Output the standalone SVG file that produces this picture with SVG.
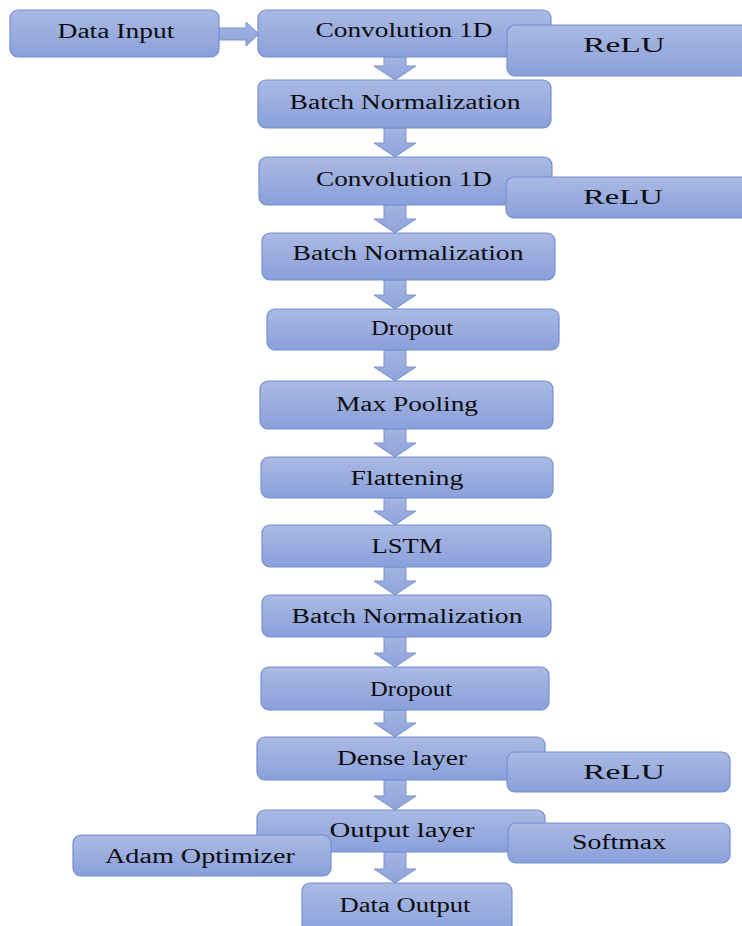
<svg xmlns="http://www.w3.org/2000/svg" width="742" height="926" viewBox="0 0 742 926">
<defs>
<linearGradient id="g" x1="0" y1="0" x2="0" y2="1">
<stop offset="0" stop-color="#abbae4"/>
<stop offset="1" stop-color="#8aa0da"/>
</linearGradient>
<linearGradient id="ga" x1="0" y1="0" x2="0" y2="1">
<stop offset="0" stop-color="#a4b4e2"/>
<stop offset="1" stop-color="#8ea3da"/>
</linearGradient>
<linearGradient id="gh" x1="0" y1="0" x2="1" y2="0">
<stop offset="0" stop-color="#a4b4e2"/>
<stop offset="1" stop-color="#8ea3da"/>
</linearGradient>
</defs>
<style>
.b{fill:url(#g);stroke:#7590d0;stroke-width:1.2}
.t{font-family:"Liberation Serif","Times New Roman",serif;font-size:20.5px;fill:#0d0d0d;text-anchor:middle}
.a{fill:url(#ga);stroke:#7a93d2;stroke-width:1}
</style>
<rect width="742" height="926" fill="#ffffff"/>
<g id="connectors">
<polygon class="a" fill="url(#gh)" points="219,28 246,28 246,22 259,34 246,46 246,40 219,40"/>
<polygon class="a" points="384,57 406,57 406,66 416,66 395,80 374,66 384,66"/>
<polygon class="a" points="384,128 406,128 406,143 416,143 395,157 374,143 384,143"/>
<polygon class="a" points="384,205 406,205 406,219 416,219 395,233 374,219 384,219"/>
<polygon class="a" points="384,280 406,280 406,295 416,295 395,309 374,295 384,295"/>
<polygon class="a" points="384,350 406,350 406,367 416,367 395,381 374,367 384,367"/>
<polygon class="a" points="384,429 406,429 406,443 416,443 395,457 374,443 384,443"/>
<polygon class="a" points="384,498 406,498 406,511 416,511 395,525 374,511 384,511"/>
<polygon class="a" points="384,567 406,567 406,581 416,581 395,595 374,581 384,581"/>
<polygon class="a" points="384,637 406,637 406,653 416,653 395,667 374,653 384,653"/>
<polygon class="a" points="384,710 406,710 406,723 416,723 395,737 374,723 384,723"/>
<polygon class="a" points="384,780 406,780 406,796 416,796 395,810 374,796 384,796"/>
<polygon class="a" points="384,852 406,852 406,869 416,869 395,883 374,869 384,869"/>
</g>
<g id="data-input"><rect class="b" x="10" y="10" width="209" height="47" rx="8"/><text class="t" x="116" y="38" textLength="117" lengthAdjust="spacingAndGlyphs">Data Input</text></g>
<g id="conv1"><rect class="b" x="258" y="10" width="293" height="47" rx="8"/><text class="t" x="404" y="37" textLength="177" lengthAdjust="spacingAndGlyphs">Convolution 1D</text></g>
<g id="relu1"><rect class="b" x="507" y="25" width="250" height="51" rx="8"/><text class="t" x="624" y="52" textLength="82" lengthAdjust="spacingAndGlyphs">ReLU</text></g>
<g id="bn1"><rect class="b" x="258" y="80" width="293" height="48" rx="8"/><text class="t" x="405" y="109" textLength="231" lengthAdjust="spacingAndGlyphs">Batch Normalization</text></g>
<g id="conv2"><rect class="b" x="259" y="157" width="293" height="48" rx="8"/><text class="t" x="404" y="186" textLength="176" lengthAdjust="spacingAndGlyphs">Convolution 1D</text></g>
<g id="relu2"><rect class="b" x="506" y="177" width="250" height="41" rx="8"/><text class="t" x="623" y="204" textLength="80" lengthAdjust="spacingAndGlyphs">ReLU</text></g>
<g id="bn2"><rect class="b" x="262" y="233" width="293" height="47" rx="8"/><text class="t" x="408" y="260" textLength="231" lengthAdjust="spacingAndGlyphs">Batch Normalization</text></g>
<g id="dropout1"><rect class="b" x="267" y="309" width="292" height="41" rx="8"/><text class="t" x="412" y="335" textLength="82" lengthAdjust="spacingAndGlyphs">Dropout</text></g>
<g id="maxpool"><rect class="b" x="260" y="381" width="293" height="48" rx="8"/><text class="t" x="407" y="411" textLength="142" lengthAdjust="spacingAndGlyphs">Max Pooling</text></g>
<g id="flatten"><rect class="b" x="261" y="457" width="292" height="41" rx="8"/><text class="t" x="407" y="485" textLength="113" lengthAdjust="spacingAndGlyphs">Flattening</text></g>
<g id="lstm"><rect class="b" x="262" y="525" width="289" height="42" rx="8"/><text class="t" x="407" y="553" textLength="71" lengthAdjust="spacingAndGlyphs">LSTM</text></g>
<g id="bn3"><rect class="b" x="262" y="595" width="289" height="42" rx="8"/><text class="t" x="407" y="623" textLength="231" lengthAdjust="spacingAndGlyphs">Batch Normalization</text></g>
<g id="dropout2"><rect class="b" x="261" y="667" width="288" height="43" rx="8"/><text class="t" x="411" y="696" textLength="82" lengthAdjust="spacingAndGlyphs">Dropout</text></g>
<g id="dense"><rect class="b" x="257" y="737" width="288" height="43" rx="8"/><text class="t" x="402" y="765" textLength="130" lengthAdjust="spacingAndGlyphs">Dense layer</text></g>
<g id="relu3"><rect class="b" x="507" y="752" width="223" height="40" rx="8"/><text class="t" x="624" y="779" textLength="82" lengthAdjust="spacingAndGlyphs">ReLU</text></g>
<g id="output"><rect class="b" x="257" y="810" width="288" height="42" rx="8"/><text class="t" x="402" y="837" textLength="145" lengthAdjust="spacingAndGlyphs">Output layer</text></g>
<g id="softmax"><rect class="b" x="508" y="823" width="222" height="40" rx="8"/><text class="t" x="619" y="849" textLength="94" lengthAdjust="spacingAndGlyphs">Softmax</text></g>
<g id="adam"><rect class="b" x="73" y="835" width="258" height="41" rx="8"/><text class="t" x="200" y="863" textLength="190" lengthAdjust="spacingAndGlyphs">Adam Optimizer</text></g>
<g id="data-output"><rect class="b" x="302" y="883" width="210" height="52" rx="8"/><text class="t" x="405" y="912" textLength="131" lengthAdjust="spacingAndGlyphs">Data Output</text></g>
</svg>
